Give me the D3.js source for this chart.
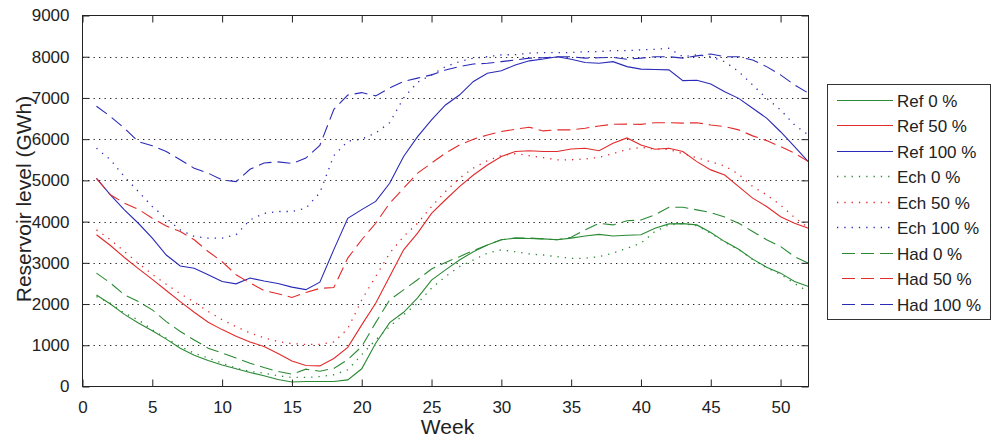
<!DOCTYPE html>
<html>
<head>
<meta charset="utf-8">
<script src="https://cdn.jsdelivr.net/npm/d3@7"></script>
<style>
  html, body { margin: 0; padding: 0; background: #fff; }
  svg { display: block; font-family: "Liberation Sans", Arial, Helvetica, sans-serif; }
</style>
</head>
<body>
<svg id="chart" width="992" height="441"></svg>
<script>
// Weekly reservoir level (GWh) per scenario
const weeks = d3.range(1, 53);

const refZero = [2220, 2000, 1750, 1540, 1350, 1150, 930, 760, 630, 520, 430, 340, 260, 170, 110, 120, 120, 120, 160, 430,
  1050, 1550, 1800, 2150, 2580, 2830, 3070, 3270, 3435, 3560, 3600, 3590, 3580, 3560, 3600, 3650, 3690, 3650, 3670, 3680,
  3840, 3945, 3950, 3920, 3735, 3515, 3330, 3090, 2895, 2750, 2545, 2425];
const refFifty = [3680, 3420, 3130, 2860, 2600, 2330, 2060, 1800, 1560, 1380, 1220, 1080, 970, 800, 620, 510, 500, 680, 950, 1495,
  2020, 2670, 3315, 3720, 4200, 4530, 4850, 5130, 5375, 5580, 5700, 5720, 5700, 5700, 5760, 5780, 5720, 5900, 6030, 5860,
  5755, 5780, 5700, 5455, 5255, 5130, 4850, 4570, 4365, 4120, 3960, 3840];
const refHundred = [5050, 4650, 4285, 3960, 3600, 3190, 2925, 2870, 2710, 2545, 2490, 2630, 2560, 2500, 2410, 2350, 2530, 3320, 4080, 4290,
  4490, 4930, 5580, 6060, 6470, 6830, 7070, 7400, 7600, 7660, 7800, 7900, 7945, 8000, 7940, 7860, 7840, 7880, 7760, 7700,
  7690, 7680, 7420, 7430, 7340, 7150, 6990, 6750, 6510, 6180, 5820, 5450];

const echZero = [2180, 2020, 1780, 1617, 1375, 1175, 970, 810, 690, 565, 445, 365, 325, 260, 220, 220, 240, 285, 405, 770,
  1130, 1455, 1740, 2020, 2385, 2670, 2910, 3070, 3235, 3315, 3270, 3215, 3190, 3150, 3110, 3110, 3150, 3235, 3355, 3475,
  3760, 3920, 3950, 3900, 3720, 3500, 3320, 3080, 2880, 2720, 2500, 2300];
const echFifty = [3800, 3560, 3275, 2990, 2720, 2480, 2250, 2050, 1820, 1620, 1450, 1300, 1180, 1090, 1040, 1020, 1020, 1080, 1400, 2100,
  2670, 3235, 3640, 3960, 4365, 4730, 5050, 5300, 5480, 5600, 5650, 5600, 5550, 5500, 5500, 5520, 5560, 5650, 5750, 5800,
  5760, 5750, 5650, 5550, 5450, 5350, 5150, 4850, 4650, 4400, 4100, 3850];
const echHundred = [5780, 5500, 5090, 4730, 4365, 4080, 3800, 3640, 3600, 3600, 3680, 4040, 4200, 4245, 4245, 4325, 4700, 5600, 5950, 6000,
  6150, 6400, 7000, 7380, 7560, 7760, 7880, 7965, 8000, 8045, 8050, 8085, 8100, 8100, 8100, 8125, 8125, 8150, 8150, 8165,
  8180, 8205, 8000, 8045, 8000, 7880, 7640, 7315, 6990, 6710, 6345, 6100];

const hadZero = [2750, 2510, 2225, 2060, 1860, 1575, 1335, 1130, 930, 810, 690, 565, 460, 365, 300, 420, 370, 440, 650, 970,
  1550, 2100, 2345, 2590, 2850, 3010, 3150, 3300, 3435, 3560, 3600, 3600, 3580, 3560, 3620, 3800, 3960, 3920, 4020, 4040,
  4165, 4350, 4350, 4285, 4220, 4110, 3960, 3760, 3560, 3395, 3150, 2990];
const hadFifty = [5050, 4650, 4450, 4300, 4080, 3895, 3760, 3560, 3275, 3030, 2710, 2510, 2330, 2250, 2160, 2280, 2380, 2400, 3115, 3560,
  3960, 4445, 4810, 5175, 5420, 5660, 5860, 6000, 6100, 6185, 6240, 6290, 6200, 6225, 6225, 6265, 6320, 6360, 6365, 6360,
  6400, 6400, 6390, 6400, 6345, 6305, 6225, 6080, 5965, 5820, 5660, 5455];
const hadHundred = [6800, 6550, 6265, 5940, 5840, 5700, 5500, 5295, 5175, 5010, 4970, 5270, 5420, 5450, 5410, 5540, 5850, 6720, 7070, 7130,
  7050, 7240, 7400, 7480, 7560, 7680, 7760, 7825, 7840, 7880, 7920, 7965, 7975, 8000, 8000, 7965, 7975, 7985, 7940, 7965,
  8000, 8000, 7965, 8020, 8065, 8000, 8000, 7920, 7760, 7560, 7315, 7115];

const seriesNames = ["Ref 0 %", "Ref 50 %", "Ref 100 %", "Ech 0 %", "Ech 50 %", "Ech 100 %", "Had 0 %", "Had 50 %", "Had 100 %"];
const seriesValues = [refZero, refFifty, refHundred, echZero, echFifty, echHundred, hadZero, hadFifty, hadHundred];

const xTicks = [0, 5, 10, 15, 20, 25, 30, 35, 40, 45, 50];
const yTicks = [0, 1000, 2000, 3000, 4000, 5000, 6000, 7000, 8000, 9000];
const gridValues = [1000, 2000, 3000, 4000, 5000, 6000, 7000, 8000];

// Styling: colour per fill level, stroke pattern per model
const colors = ["#2a8a34", "#e22a2a", "#2a2ab8"];
const dashes = [null, "1.3,6", "13,6"];

const plotLeft = 82.5, plotRight = 808.5, plotTop = 15.5, plotBottom = 386.5;

const svg = d3.select("#chart");
const x = d3.scaleLinear().domain([0, 52]).range([plotLeft, plotRight]);
const y = d3.scaleLinear().domain([0, 9000]).range([plotBottom, plotTop]);

svg.append("defs").append("clipPath").attr("id", "plotClip")
  .append("rect").attr("x", plotLeft).attr("y", plotTop)
  .attr("width", plotRight - plotLeft).attr("height", plotBottom - plotTop);

// Horizontal dotted grid
svg.append("g").selectAll("line").data(gridValues).join("line")
  .attr("x1", plotLeft).attr("x2", plotRight)
  .attr("y1", d => Math.round(y(d)) + 0.5).attr("y2", d => Math.round(y(d)) + 0.5)
  .attr("stroke", "#222").attr("stroke-width", 1).attr("stroke-dasharray", "1.3,4.2");

// Series lines
const line = d3.line().x((d, i) => x(weeks[i])).y(d => y(d));
const lines = svg.append("g").attr("clip-path", "url(#plotClip)");
seriesValues.forEach((vals, k) => {
  const model = Math.floor(k / 3), level = k % 3;
  lines.append("path").datum(vals)
    .attr("d", line)
    .attr("fill", "none")
    .attr("stroke", colors[level])
    .attr("stroke-width", model === 1 ? 1.3 : 1.1)
    .attr("stroke-dasharray", dashes[model]);
});

// Axes with inward ticks on all four sides
const tickLen = 7;
const fmt = d3.format("d");
const axisStyle = g => {
  g.select(".domain").remove();
  g.selectAll(".tick line").attr("stroke", "#222");
  g.selectAll(".tick text").attr("fill", "#222").style("font-size", "17px")
    .style("font-family", "\"Liberation Sans\", Arial, sans-serif");
};
svg.append("g").attr("transform", `translate(0,${plotBottom})`)
  .call(d3.axisBottom(x).tickValues(xTicks).tickFormat(fmt).tickSizeInner(-tickLen).tickSizeOuter(0).tickPadding(tickLen + 7))
  .call(axisStyle);
svg.append("g").attr("transform", `translate(0,${plotTop})`)
  .call(d3.axisTop(x).tickValues(xTicks).tickSizeInner(-tickLen).tickSizeOuter(0).tickFormat(""))
  .call(axisStyle);
svg.append("g").attr("transform", `translate(${plotLeft},0)`)
  .call(d3.axisLeft(y).tickValues(yTicks).tickFormat(fmt).tickSizeInner(-tickLen).tickSizeOuter(0).tickPadding(tickLen + 6))
  .call(axisStyle);
svg.append("g").attr("transform", `translate(${plotRight},0)`)
  .call(d3.axisRight(y).tickValues(yTicks).tickSizeInner(-tickLen).tickSizeOuter(0).tickFormat(""))
  .call(axisStyle);

// Plot frame
svg.append("rect").attr("x", plotLeft).attr("y", plotTop)
  .attr("width", plotRight - plotLeft).attr("height", plotBottom - plotTop)
  .attr("fill", "none").attr("stroke", "#222").attr("stroke-width", 1);

// Axis titles
svg.append("text").attr("x", (plotLeft + plotRight) / 2 + 2).attr("y", 434)
  .attr("text-anchor", "middle").attr("fill", "#222").style("font-size", "21px").text("Week");
svg.append("text").attr("transform", `translate(31,${(plotTop + plotBottom) / 2 - 2}) rotate(-90)`)
  .attr("text-anchor", "middle").attr("fill", "#222").style("font-size", "21px").text("Reservoir level (GWh)");

// Legend
const legend = svg.append("g");
legend.append("rect").attr("x", 827.5).attr("y", 84.5).attr("width", 163).attr("height", 235)
  .attr("fill", "#fff").attr("stroke", "#333").attr("stroke-width", 1);
const rowY = d3.scaleLinear().domain([0, 8]).range([99.5, 304]);
seriesNames.forEach((name, k) => {
  const model = Math.floor(k / 3), level = k % 3;
  const yy = Math.round(rowY(k)) + 0.5;
  legend.append("line").attr("x1", model === 2 ? 842 : 837).attr("x2", 893).attr("y1", yy).attr("y2", yy)
    .attr("stroke", colors[level]).attr("stroke-width", model === 1 ? 1.3 : 1.1)
    .attr("stroke-dasharray", dashes[model]);
  legend.append("text").attr("x", 897).attr("y", yy + 6).attr("fill", "#222")
    .style("font-size", "17px").text(name);
});
</script>
</body>
</html>
